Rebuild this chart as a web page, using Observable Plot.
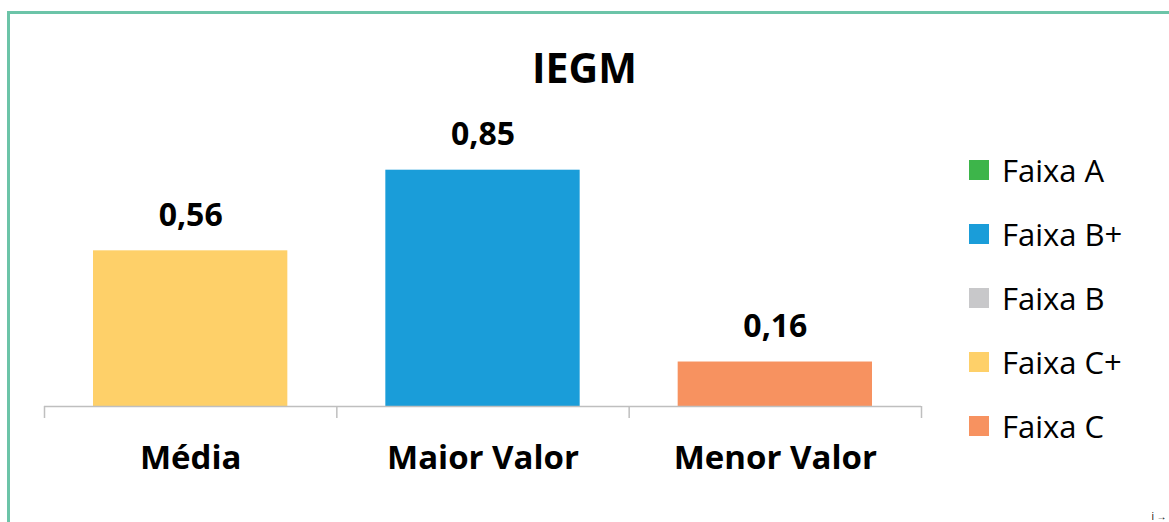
<!DOCTYPE html>
<html>
<head>
<meta charset="utf-8">
<script src="https://cdn.jsdelivr.net/npm/d3@7"></script>
<script src="https://cdn.jsdelivr.net/npm/@observablehq/plot@0.6"></script>
<style>
  html, body { margin: 0; padding: 0; background: #fff; overflow: hidden; }
  #wrap { position: relative; width: 1169px; height: 522px; overflow: hidden; font-family: "Open Sans", sans-serif; }
  #border { position: absolute; left: 7px; top: 11px; width: 1300px; height: 600px;
            border-top: 3px solid #6CC4A8; border-left: 3px solid #6CC4A8; box-sizing: border-box; }
  #title { position: absolute; left: 0; top: 40px; width: 1169px; text-align: center;
           font-weight: 700; font-size: 41px; line-height: 54px; color: #000; }
  #legend { position: absolute; left: 969px; top: 138px; }
  .row { display: flex; align-items: center; height: 64px; font-size: 31px; color: #000; }
  .sw { width: 20px; height: 20px; margin-right: 13px; }
  #chart { position: absolute; left: 0; top: 0; }
</style>
</head>
<body>
<div id="wrap">
  <div id="chart"></div>
  <div id="border"></div>
  <div id="title">IEGM</div>
  <div id="legend"></div>
</div>
<script>
const categories = ["Média", "Maior Valor", "Menor Valor"];
const values = [0.56, 0.85, 0.16];
const barFaixa = ["Faixa C+", "Faixa B+", "Faixa C"];
const faixas = ["Faixa A", "Faixa B+", "Faixa B", "Faixa C+", "Faixa C"];
const faixaColors = ["#3DB54A", "#1A9DD9", "#C8C8CA", "#FED069", "#F79260"];
const bandTicks = [0, 1, 2, 3];

const data = categories.map((c, i) => ({i, category: c, value: values[i], faixa: barFaixa[i]}));
const fmt = v => d3.format(".2f")(v).replace(".", ",");

const plot = Plot.plot({
  width: 1169,
  height: 522,
  marginLeft: 44,
  marginRight: 248,
  marginTop: 128,
  marginBottom: 116,
  style: {fontFamily: "Open Sans, sans-serif", background: "transparent"},
  x: {domain: [0, 3], axis: null},
  y: {domain: [0, 1], axis: null},
  color: {domain: faixas, range: faixaColors},
  marks: [
    Plot.rectY(data, {x1: "i", x2: d => d.i + 1, y: "value", fill: "faixa", insetLeft: 49, insetRight: 49}),
    Plot.ruleY([0], {stroke: "#BFBFBF", strokeWidth: 1.5}),
    Plot.axisX({ticks: bandTicks, tickSize: 12, tickFormat: () => "", stroke: "#BFBFBF", strokeWidth: 1.5, strokeOpacity: 1}),
    Plot.text(data, {x: d => d.i + 0.5, y: "value", text: d => fmt(d.value), dy: -35,
      fontSize: 32, fontWeight: 700, fill: "#000"}),
    Plot.text(data, {x: d => d.i + 0.5, y: 0, text: "category", dy: 52,
      fontSize: 33, fontWeight: 700, fill: "#000"})
  ]
});
document.getElementById("chart").appendChild(plot);

const legend = document.getElementById("legend");
faixas.forEach((f, k) => {
  const row = document.createElement("div");
  row.className = "row";
  const sw = document.createElement("div");
  sw.className = "sw";
  sw.style.background = faixaColors[k];
  const lab = document.createElement("span");
  lab.textContent = f;
  row.appendChild(sw);
  row.appendChild(lab);
  legend.appendChild(row);
});
</script>
</body>
</html>
